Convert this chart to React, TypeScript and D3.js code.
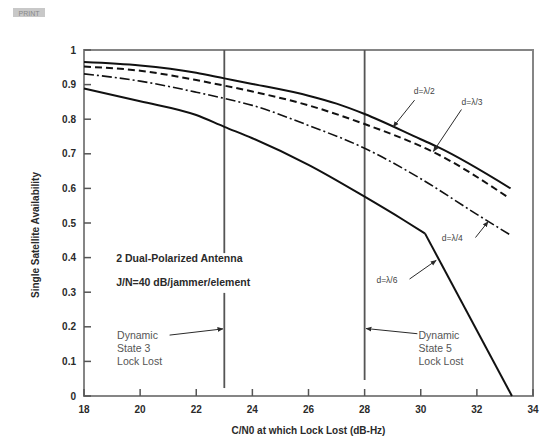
import React from 'react';
import * as d3 from 'd3';

// x values (C/N0, dB-Hz) and availability for each spacing
const xTop = [18, 20, 22, 23, 24, 26, 27, 28, 30, 30.6, 33.2];
const yTop = [0.965, 0.955, 0.934, 0.918, 0.902, 0.868, 0.845, 0.815, 0.742, 0.72, 0.6];

const xDash = [18, 20, 22, 23, 24, 26, 28, 30, 30.4, 33.15];
const yDash = [0.952, 0.94, 0.913, 0.897, 0.88, 0.84, 0.786, 0.722, 0.707, 0.572];

const xDashDot = [18, 20, 22, 23, 24, 26, 28, 30, 32, 33.2];
const yDashDot = [0.931, 0.91, 0.878, 0.86, 0.84, 0.782, 0.716, 0.628, 0.525, 0.465];

// lowest curve: smooth up to the knee, then a straight drop
const xLow = [18, 20, 22, 23, 24, 26, 28, 29.4, 30.15];
const yLow = [0.889, 0.852, 0.812, 0.778, 0.745, 0.668, 0.576, 0.508, 0.47];
const xLowDrop = [30.15, 33.25];
const yLowDrop = [0.47, 0];

const xTicks = [18, 20, 22, 24, 26, 28, 30, 32, 34];
const yTicks = [0, 0.1, 0.2, 0.3, 0.4, 0.5, 0.6, 0.7, 0.8, 0.9, 1];

const W = 541;
const H = 442;
const M = { left: 84, right: 8, top: 50, bottom: 46 };

const zip = (xs: number[], ys: number[]) => xs.map((x, i) => [x, ys[i]] as [number, number]);

export default function App() {
  const x = d3.scaleLinear().domain([18, 34]).range([M.left, W - M.right]);
  const y = d3.scaleLinear().domain([0, 1]).range([H - M.bottom, M.top]);
  const smooth = d3.line<[number, number]>().x(d => x(d[0])).y(d => y(d[1])).curve(d3.curveMonotoneX);
  const straight = d3.line<[number, number]>().x(d => x(d[0])).y(d => y(d[1]));

  const series = [
    { d: smooth(zip(xTop, yTop)), dash: undefined, w: 2 },
    { d: smooth(zip(xDash, yDash)), dash: '7 4', w: 2 },
    { d: smooth(zip(xDashDot, yDashDot)), dash: '10 3 2 3', w: 1.6 },
    { d: smooth(zip(xLow, yLow)), dash: undefined, w: 2 },
    { d: straight(zip(xLowDrop, yLowDrop)), dash: undefined, w: 2 },
  ];

  // curve labels with leader lines, in data units
  const labels = [
    { t: 'd=λ/2', tx: 29.75, ty: 0.872, x1: 29.78, y1: 0.855, x2: 29.02, y2: 0.778 },
    { t: 'd=λ/3', tx: 31.45, ty: 0.842, x1: 31.45, y1: 0.828, x2: 30.45, y2: 0.707 },
    { t: 'd=λ/4', tx: 30.75, ty: 0.447, x1: 31.95, y1: 0.458, x2: 32.4, y2: 0.504 },
    { t: 'd=λ/6', tx: 28.42, ty: 0.328, x1: 29.6, y1: 0.338, x2: 30.55, y2: 0.392 },
  ];

  const font = "'Liberation Sans', Arial, sans-serif";
  const ink = '#2a2a2a';

  return (
    <svg width={W} height={H} style={{ position: 'fixed', left: 0, top: 0, background: '#fff' }} fontFamily={font}>
      <defs>
        <marker id="ah" viewBox="0 0 10 10" refX="9" refY="5" markerWidth="6" markerHeight="6" orient="auto">
          <path d="M0,1 L10,5 L0,9 z" fill={ink} />
        </marker>
      </defs>

      {/* top-left tag */}
      <rect x={13} y={8} width={32} height={9} fill="#c8c8c8" />
      <text x={29} y={15.5} fontSize={7} textAnchor="middle" fill="#888">PRINT</text>

      {/* frame */}
      <rect x={x(18)} y={y(1)} width={x(34) - x(18)} height={y(0) - y(1)} fill="none" stroke="#858585" strokeWidth={2} />

      {/* ticks */}
      {yTicks.map(t => (
        <g key={`y${t}`}>
          <line x1={x(18)} x2={x(18) + 7} y1={y(t)} y2={y(t)} stroke="#555" strokeWidth={1.5} />
          <text x={x(18) - 8} y={y(t) + 3.5} fontSize={10} fontWeight="bold" textAnchor="end" fill={ink}>
            {t === 0 || t === 1 ? t : t.toFixed(1)}
          </text>
        </g>
      ))}
      {xTicks.map(t => (
        <g key={`x${t}`}>
          <line x1={x(t)} x2={x(t)} y1={y(0)} y2={y(0) - 7} stroke="#555" strokeWidth={1.5} />
          <text x={x(t)} y={y(0) + 17} fontSize={10} fontWeight="bold" textAnchor="middle" fill={ink}>{t}</text>
        </g>
      ))}

      {/* lock lost markers */}
      <line x1={x(23)} x2={x(23)} y1={y(1)} y2={y(0.413)} stroke="#555" strokeWidth={1.8} />
      <line x1={x(23)} x2={x(23)} y1={y(0.298)} y2={y(0.023)} stroke="#555" strokeWidth={1.8} />
      <line x1={x(28)} x2={x(28)} y1={y(1)} y2={y(0.046)} stroke="#555" strokeWidth={1.8} />

      {/* curves */}
      {series.map((s, i) => (
        <path key={i} d={s.d || ''} fill="none" stroke="#111" strokeWidth={s.w} strokeDasharray={s.dash} strokeLinejoin="round" />
      ))}

      {labels.map(l => (
        <g key={l.t}>
          <line x1={x(l.x1)} y1={y(l.y1)} x2={x(l.x2)} y2={y(l.y2)} stroke={ink} strokeWidth={1} markerEnd="url(#ah)" />
          <text x={x(l.tx)} y={y(l.ty)} fontSize={8.5} fill="#444">{l.t}</text>
        </g>
      ))}

      {/* legend text */}
      <text x={x(19.15)} y={y(0.388)} fontSize={10.5} fontWeight="bold" fill={ink}>2 Dual-Polarized Antenna</text>
      <text x={x(19.15)} y={y(0.318)} fontSize={10.5} fontWeight="bold" fill={ink}>J/N=40 dB/jammer/element</text>

      {/* dynamic state notes */}
      {['Dynamic', 'State 3', 'Lock Lost'].map((s, i) => (
        <text key={s} x={x(19.18)} y={y(0.165) + i * 13} fontSize={10.5} fill="#555">{s}</text>
      ))}
      <line x1={x(21.05)} y1={y(0.176)} x2={x(22.95)} y2={y(0.194)} stroke={ink} strokeWidth={1} markerEnd="url(#ah)" />

      {['Dynamic', 'State 5', 'Lock Lost'].map((s, i) => (
        <text key={s} x={x(29.92)} y={y(0.165) + i * 13} fontSize={10.5} fill="#555">{s}</text>
      ))}
      <line x1={x(29.88)} y1={y(0.18)} x2={x(28.05)} y2={y(0.195)} stroke={ink} strokeWidth={1} markerEnd="url(#ah)" />

      {/* axis titles */}
      <text x={(x(18) + x(34)) / 2} y={434} fontSize={10} fontWeight="bold" textAnchor="middle" fill={ink}>
        C/N0 at which Lock Lost (dB-Hz)
      </text>
      <text transform={`translate(39,${(y(0) + y(1)) / 2 + 12}) rotate(-90)`} fontSize={10} fontWeight="bold" textAnchor="middle" fill={ink}>
        Single Satellite Availability
      </text>
    </svg>
  );
}
